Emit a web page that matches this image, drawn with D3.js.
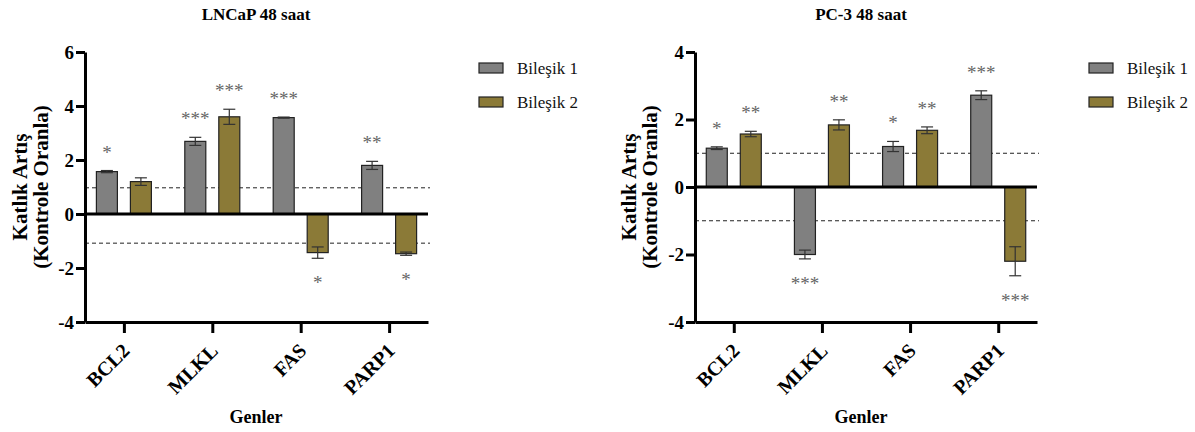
<!DOCTYPE html>
<html>
<head>
<meta charset="utf-8">
<title></title>
<style>
  body { margin: 0; background: #fff; }
  svg text { font-family: "Liberation Serif", "DejaVu Serif", "Times New Roman", Times, serif !important; }
</style>
</head>
<body>
<script src="https://d3js.org/d3.v7.min.js"></script>
<script>
// genes on the x axis and the two compounds
var genes = ["BCL2", "MLKL", "FAS", "PARP1"];
var compounds = ["Bileşik 1", "Bileşik 2"];
var colors = ["#808080", "#8b7a37"];

// LNCaP 48 saat
var lncapB1 = [1.57, 2.69, 3.57, 1.80];
var lncapB1Err = [0.04, 0.15, 0.02, 0.15];
var lncapB1Sig = ["*", "***", "***", "**"];
var lncapB2 = [1.20, 3.60, -1.43, -1.47];
var lncapB2Err = [0.14, 0.28, 0.21, 0.06];
var lncapB2Sig = ["", "***", "*", "*"];
var lncapRef = [0.97, -1.08];

// PC-3 48 saat
var pc3B1 = [1.15, -2.00, 1.20, 2.72];
var pc3B1Err = [0.04, 0.13, 0.15, 0.13];
var pc3B1Sig = ["*", "***", "*", "***"];
var pc3B2 = [1.57, 1.84, 1.68, -2.20];
var pc3B2Err = [0.08, 0.15, 0.10, 0.43];
var pc3B2Sig = ["**", "**", "**", "***"];
var pc3Ref = [1, -1];

var svg = d3.select("body").append("svg")
    .attr("width", 1195)
    .attr("height", 432);

function panel(o) {
    var x = d3.scalePoint().domain(genes).range([o.left, o.right]).padding(0.44);
    var y = d3.scaleLinear().domain(o.domain).range([322, 52]);
    var g = svg.append("g");
    var barW = 21, off = 17;

    // title
    g.append("text")
        .attr("x", o.titleX).attr("y", 20)
        .attr("text-anchor", "middle")
        .style("font-weight", "bold").style("font-size", "17px")
        .text(o.title);

    // dashed reference lines
    g.selectAll(".ref").data(o.ref).enter().append("line")
        .attr("x1", o.left).attr("x2", o.right + 2)
        .attr("y1", function(d) { return y(d); })
        .attr("y2", function(d) { return y(d); })
        .style("stroke", "#222").style("stroke-width", 1)
        .style("stroke-dasharray", "4,3");

    var series = [
        {vals: o.b1, err: o.b1Err, sig: o.b1Sig, dx: -off, color: colors[0]},
        {vals: o.b2, err: o.b2Err, sig: o.b2Sig, dx: off, color: colors[1]}
    ];

    series.forEach(function(s) {
        var rows = genes.map(function(gn, i) {
            return {gene: gn, v: s.vals[i], e: s.err[i], sig: s.sig[i]};
        });
        var sg = g.append("g");
        sg.selectAll("rect").data(rows).enter().append("rect")
            .attr("x", function(d) { return x(d.gene) + s.dx - barW / 2; })
            .attr("y", function(d) { return y(Math.max(0, d.v)); })
            .attr("width", barW)
            .attr("height", function(d) { return Math.abs(y(d.v) - y(0)); })
            .style("fill", s.color)
            .style("stroke", "#222").style("stroke-width", 1.2);

        // error bars
        var eg = sg.selectAll(".eb").data(rows).enter().append("g");
        eg.append("line")
            .attr("x1", function(d) { return x(d.gene) + s.dx; })
            .attr("x2", function(d) { return x(d.gene) + s.dx; })
            .attr("y1", function(d) { return y(d.v - d.e); })
            .attr("y2", function(d) { return y(d.v + d.e); })
            .style("stroke", "#333").style("stroke-width", 1.2);
        [-1, 1].forEach(function(k) {
            eg.append("line")
                .attr("x1", function(d) { return x(d.gene) + s.dx - 6; })
                .attr("x2", function(d) { return x(d.gene) + s.dx + 6; })
                .attr("y1", function(d) { return y(d.v + k * d.e); })
                .attr("y2", function(d) { return y(d.v + k * d.e); })
                .style("stroke", "#333").style("stroke-width", 1.2);
        });

        // significance stars
        sg.selectAll(".sig").data(rows).enter().append("text")
            .attr("x", function(d) { return x(d.gene) + s.dx; })
            .attr("y", function(d) {
                return d.v >= 0 ? y(d.v + d.e) - 21 + 9 : y(d.v - d.e) + 22 + 9;
            })
            .attr("text-anchor", "middle")
            .style("font-size", "19px").style("fill", "#666")
            .text(function(d) { return d.sig; });
    });

    // zero line
    g.append("line")
        .attr("x1", o.left).attr("x2", o.right)
        .attr("y1", y(0)).attr("y2", y(0))
        .style("stroke", "#000").style("stroke-width", 3);

    // axes
    var ya = g.append("g")
        .attr("transform", "translate(" + o.left + ",0)")
        .call(d3.axisLeft(y).tickValues(o.ticks).tickSize(9).tickSizeOuter(0)
            .tickFormat(function(d) { return String(d); }));
    var xa = g.append("g")
        .attr("transform", "translate(0,322)")
        .call(d3.axisBottom(x).tickSize(11).tickSizeOuter(0).tickFormat(""));
    [ya, xa].forEach(function(a) {
        a.select(".domain").style("stroke", "#000").style("stroke-width", 3);
        a.selectAll(".tick line").style("stroke", "#000").style("stroke-width", 3);
    });
    ya.selectAll(".tick text")
        .style("font-weight", "bold")
        .style("font-size", "19px").style("fill", "#000").attr("x", -11);

    // rotated gene labels
    g.selectAll(".glab").data(genes).enter().append("text")
        .attr("transform", function(d) {
            return "translate(" + (x(d) + 7) + ",352) rotate(-45)";
        })
        .attr("text-anchor", "end")
        .style("font-weight", "bold").style("font-size", "20px")
        .text(function(d) { return d; });

    // x title
    g.append("text")
        .attr("x", o.titleX).attr("y", 423)
        .attr("text-anchor", "middle")
        .style("font-weight", "bold").style("font-size", "18px")
        .text("Genler");

    // y title, two lines
    var yl = g.append("text")
        .attr("transform", "translate(" + o.ylabX + ",187) rotate(-90)")
        .attr("text-anchor", "middle")
        .style("font-weight", "bold").style("font-size", "21px");
    yl.append("tspan").attr("x", 0).attr("y", 0).text("Katlık Artış");
    yl.append("tspan").attr("x", 0).attr("y", 21).text("(Kontrole Oranla)");

    // legend
    var lg = g.append("g").attr("transform", "translate(" + o.legX + ",63)");
    lg.selectAll("rect").data(compounds).enter().append("rect")
        .attr("x", 0).attr("y", function(d, i) { return i * 34; })
        .attr("width", 24).attr("height", 10)
        .style("fill", function(d, i) { return colors[i]; })
        .style("stroke", "#222").style("stroke-width", 1.2);
    lg.selectAll("text").data(compounds).enter().append("text")
        .attr("x", 38).attr("y", function(d, i) { return i * 34 + 11; })
        .style("font-size", "17px").style("fill", "#111")
        .text(function(d) { return d; });
}

panel({
    title: "LNCaP 48 saat", titleX: 256, left: 85, right: 428,
    domain: [-4, 6], ticks: [-4, -2, 0, 2, 4, 6], ref: lncapRef,
    b1: lncapB1, b1Err: lncapB1Err, b1Sig: lncapB1Sig,
    b2: lncapB2, b2Err: lncapB2Err, b2Sig: lncapB2Sig,
    ylabX: 27, legX: 479
});

panel({
    title: "PC-3 48 saat", titleX: 861, left: 695, right: 1037,
    domain: [-4, 4], ticks: [-4, -2, 0, 2, 4], ref: pc3Ref,
    b1: pc3B1, b1Err: pc3B1Err, b1Sig: pc3B1Sig,
    b2: pc3B2, b2Err: pc3B2Err, b2Sig: pc3B2Sig,
    ylabX: 636, legX: 1089
});
</script>
</body>
</html>
